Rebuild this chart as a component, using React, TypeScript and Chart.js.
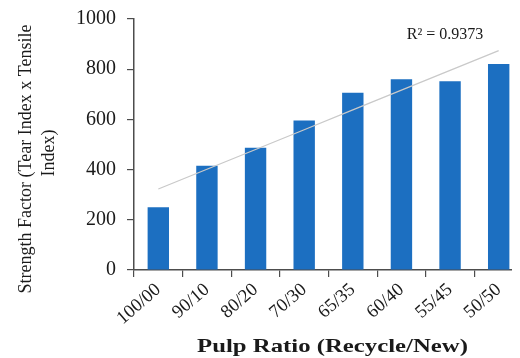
import React, { useEffect, useRef } from "react";
import { Chart, registerables } from "chart.js";

Chart.register(...registerables);

const categories = ["100/00", "90/10", "80/20", "70/30", "65/35", "60/40", "55/45", "50/50"];
const strengthFactor = [250, 415, 487, 596, 706, 760, 752, 821];
const yTicks = [0, 200, 400, 600, 800, 1000];
const rSquaredLabel = "R\u00B2 = 0.9373";
const yTitleLines = ["Strength Factor (Tear Index x Tensile", "Index)"];
const xTitle = "Pulp Ratio (Recycle/New)";

// Least-squares linear trend through the bar values
function linearTrend(values: number[]): number[] {
  const n = values.length;
  const mx = (n - 1) / 2;
  const my = values.reduce((a, b) => a + b, 0) / n;
  let sxy = 0;
  let sxx = 0;
  values.forEach((v, i) => {
    sxy += (i - mx) * (v - my);
    sxx += (i - mx) * (i - mx);
  });
  const slope = sxy / sxx;
  return values.map((_, i) => my + slope * (i - mx));
}

const SERIF = "'Liberation Serif', 'Times New Roman', serif";
const AXIS_COLOR = "#4d4d4d";
const TEXT_COLOR = "#1a1a1a";

const titlesPlugin = {
  id: "customTitles",
  afterDraw(chart: Chart) {
    const ctx = chart.ctx;
    ctx.save();
    ctx.fillStyle = TEXT_COLOR;

    // Trend line label
    ctx.font = `16px ${SERIF}`;
    ctx.textAlign = "center";
    ctx.textBaseline = "alphabetic";
    ctx.fillText(rSquaredLabel, 437, 31);

    // Y axis title, two rotated lines
    ctx.font = `18px ${SERIF}`;
    ctx.textBaseline = "middle";
    ctx.save();
    ctx.translate(18, 151);
    ctx.rotate(-Math.PI / 2);
    ctx.fillText(yTitleLines[0], 0, 0);
    ctx.restore();
    ctx.save();
    ctx.translate(41, 145);
    ctx.rotate(-Math.PI / 2);
    ctx.fillText(yTitleLines[1], 0, 0);
    ctx.restore();

    // X axis title, bold and widened
    ctx.font = `bold 19px ${SERIF}`;
    ctx.textBaseline = "alphabetic";
    const w = ctx.measureText(xTitle).width;
    const sx = 271 / w;
    ctx.save();
    ctx.translate(324.5, 344);
    ctx.scale(sx, 1);
    ctx.fillText(xTitle, 0, 0);
    ctx.restore();

    ctx.restore();
  },
};

export default function App() {
  const canvasRef = useRef<HTMLCanvasElement | null>(null);

  useEffect(() => {
    if (!canvasRef.current) return;
    const trend = linearTrend(strengthFactor);
    const chart = new Chart(canvasRef.current, {
      type: "bar",
      data: {
        labels: categories,
        datasets: [
          {
            type: "line",
            data: trend,
            borderColor: "#c9c9c9",
            borderWidth: 1.2,
            pointRadius: 0,
            fill: false,
            order: 0,
          },
          {
            type: "bar",
            data: strengthFactor,
            backgroundColor: "#1c6fc1",
            borderWidth: 0,
            barPercentage: 0.44,
            categoryPercentage: 1,
            order: 1,
          },
        ],
      },
      options: {
        responsive: false,
        animation: false,
        devicePixelRatio: 1,
        layout: { padding: { top: 11, right: 0, bottom: 0, left: 0 } },
        plugins: {
          legend: { display: false },
          tooltip: { enabled: false },
          title: { display: false },
        },
        scales: {
          x: {
            type: "category",
            offset: true,
            grid: {
              offset: true,
              drawOnChartArea: false,
              drawTicks: true,
              tickLength: 7,
              color: AXIS_COLOR,
              lineWidth: 1.2,
            },
            border: { display: true, color: AXIS_COLOR, width: 1.5 },
            ticks: {
              minRotation: 41,
              maxRotation: 41,
              autoSkip: false,
              padding: 2,
              color: TEXT_COLOR,
              font: { family: SERIF, size: 18.5 },
            },
            afterFit(scale: any) {
              scale.height = 88;
              scale.paddingLeft = 0;
              scale.paddingRight = 0;
              scale.paddingTop = 0;
              scale.paddingBottom = 0;
            },
          },
          y: {
            min: 0,
            max: 1000,
            afterBuildTicks(scale: any) {
              scale.ticks = yTicks.map((v) => ({ value: v }));
            },
            grid: {
              drawOnChartArea: false,
              drawTicks: true,
              tickLength: 7,
              color: AXIS_COLOR,
              lineWidth: 1.2,
            },
            border: { display: true, color: AXIS_COLOR, width: 1.5 },
            ticks: {
              padding: 11,
              color: TEXT_COLOR,
              font: { family: SERIF, size: 20 },
              callback: (value: any) => String(value),
            },
            afterFit(scale: any) {
              scale.width = 126;
              scale.paddingTop = 0;
              scale.paddingBottom = 0;
              scale.paddingLeft = 0;
              scale.paddingRight = 0;
            },
          },
        },
      },
      plugins: [titlesPlugin],
    });
    return () => chart.destroy();
  }, []);

  return (
    <div style={{ width: 512, height: 350, overflow: "hidden", background: "#fff" }}>
      <canvas ref={canvasRef} width={515} height={350} style={{ display: "block" }} />
    </div>
  );
}
